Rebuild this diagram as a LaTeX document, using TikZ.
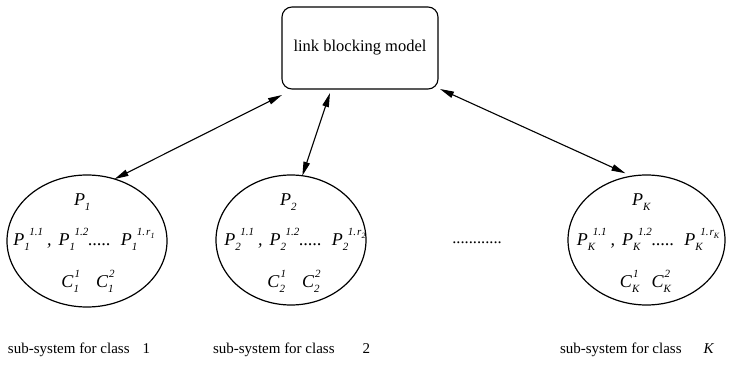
\documentclass[tikz,border=0pt]{standalone}
\usepackage{fontspec}
\setmainfont{Liberation Serif}
\usetikzlibrary{shapes.geometric,arrows.meta}

% sizes for indices and for indices of indices
\newcommand\idxsz{\fontsize{11}{11}\selectfont\itshape}
\newcommand\idxidxsz{\fontsize{8}{8}\selectfont\itshape}
% italic letter #2 with subscript #3 and superscript #4; #1 kerns the superscript
\newcommand\clsym[4][5pt]{\textit{#2}\hbox{\rlap{\raisebox{-5pt}{\idxsz #3}}\raisebox{10pt}{\kern#1\idxsz #4}}}
% one row of path indices: P_k^{1.1}, P_k^{1.2} ..... P_k^{1.r_k}
\newcommand\clrow[1]{\clsym{P}{#1}{1.1}\kern4pt\textit{,}\kern7pt\clsym{P}{#1}{1.2}\textit{.....}\kern10pt\clsym{P}{#1}{1.\kern1pt r\raisebox{-3pt}{\idxidxsz #1}}}

\begin{document}
\begin{tikzpicture}[x=1pt,y=-1pt,
  every node/.style={inner sep=0pt,outer sep=0pt},
  modelbox/.style={draw,line width=1.1pt,rounded corners=10pt,
    minimum width=156pt,minimum height=82pt,
    font=\fontsize{16.5}{19}\selectfont},
  subsys/.style={draw,ellipse,line width=1.2pt},
  sym/.style={font=\fontsize{18}{20}\selectfont},
  lbl/.style={font=\fontsize{15}{17}\selectfont},
  link/.style={line width=1.1pt,{Triangle[length=14pt,width=6.5pt]}-{Triangle[length=14pt,width=6.5pt]}}
]
\useasboundingbox (0,0) rectangle (738,366);

% central model
\node[modelbox] (model) at (360,48) {link blocking model};

% the sub-systems
\node[subsys,minimum width=160pt,minimum height=132pt] (e1) at (87,241) {};
\node[subsys,minimum width=150pt,minimum height=130pt] (e2) at (291,240) {};
\node[subsys,minimum width=157pt,minimum height=130pt] (e3) at (646.5,240) {};

% contents of sub-system 1
\node[sym,anchor=base west] (p1) at (74,205) {\clsym{P}{1}{}};
\node[sym,anchor=base] (r1) at (84,245) {\clrow{1}};
\node[sym,anchor=base] (c1) at (88,287) {\clsym[1pt]{C}{1}{1}\hspace{16pt}\clsym[1pt]{C}{1}{2}};

% contents of sub-system 2
\node[sym,anchor=base west] (p2) at (280,205) {\clsym{P}{2}{}};
\node[sym,anchor=base] (r2) at (295,245) {\clrow{2}};
\node[sym,anchor=base] (c2) at (294,287) {\clsym[1pt]{C}{2}{1}\hspace{16pt}\clsym[1pt]{C}{2}{2}};

% contents of sub-system K
\node[sym,anchor=base west] (pk) at (632,205) {\clsym{P}{K}{}};
\node[sym,anchor=base] (rk) at (648,245) {\clrow{K}};
\node[sym,anchor=base] (ck) at (645,287) {\clsym[1pt]{C}{K}{1}\hspace{13pt}\clsym[1pt]{C}{K}{2}};

% the omitted classes
\node[font=\fontsize{16.5}{19}\selectfont,anchor=base] (gap) at (477,243) {............};

% two-way links between the model and each sub-system
\draw[link] (e1.66) -- ([yshift=-6pt]model.south west);
\draw[link] (e2.80) -- ([xshift=-30pt,yshift=-4pt]model.south);
\draw[link,shorten >=7pt] ([xshift=2pt]model.south east) -- (e3.103);

% captions
\node[lbl,anchor=base west] (l1) at (8,353) {sub-system for class\hspace{13pt}1};
\node[lbl,anchor=base west] (l2) at (213,353) {sub-system for class\hspace{28pt}2};
\node[lbl,anchor=base west] (lk) at (560,353) {sub-system for class\hspace{22pt}\textit{K}};
\end{tikzpicture}
\end{document}
